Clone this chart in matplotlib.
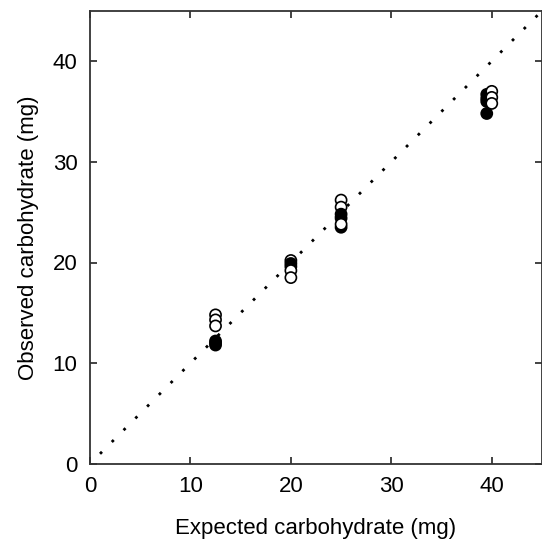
import matplotlib.pyplot as plt
import numpy as np

plt.rcParams['font.family'] = ['Liberation Sans', 'DejaVu Sans']

# points in drawing order (later ones sit on top)
x_vals = [12.5, 12.5, 12.5, 12.5, 12.5, 12.5,
          20, 20, 20, 20, 20,
          25, 25, 25, 25, 25, 25,
          39.5, 39.5, 39.5, 39.5, 40, 40, 40]
y_vals = [12.2, 12.0, 11.8, 14.8, 14.3, 13.7,
          20.2, 19.9, 19.6, 19.2, 18.5,
          26.2, 25.5, 24.8, 24.4, 23.5, 23.8,
          36.7, 36.3, 36.0, 34.8, 37.0, 36.4, 35.8]
filled = [1, 1, 1, 0, 0, 0,
          0, 1, 1, 0, 0,
          0, 0, 1, 1, 1, 0,
          1, 1, 1, 1, 0, 0, 0]

line_x = np.array([1, 45])

fig = plt.figure(figsize=(5.42, 5.40), dpi=100)
ax = fig.add_axes([0.166, 0.141, 0.834, 0.839])

ax.plot(line_x, line_x, color="black", linestyle=(0, (1, 5)), linewidth=2)
faces = ["black" if f else "white" for f in filled]
ax.scatter(x_vals, y_vals, s=64, c=faces, edgecolors="black", linewidths=1.2, zorder=3)

ax.set_xlim(0, 45)
ax.set_ylim(0, 45)
ax.set_xticks([0, 10, 20, 30, 40])
ax.set_yticks([0, 10, 20, 30, 40])
ax.tick_params(direction="in", length=5, width=1.2, labelsize=16,
               top=True, right=True, colors="#222222", labelcolor="black", pad=9)
for s in ax.spines.values():
    s.set_linewidth(1.3)
    s.set_color("#333333")

ax.set_xlabel("Expected carbohydrate (mg)", fontsize=16, labelpad=15)
ax.set_ylabel("Observed carbohydrate (mg)", fontsize=16, labelpad=10)

fig.savefig("out.png", dpi=100)
